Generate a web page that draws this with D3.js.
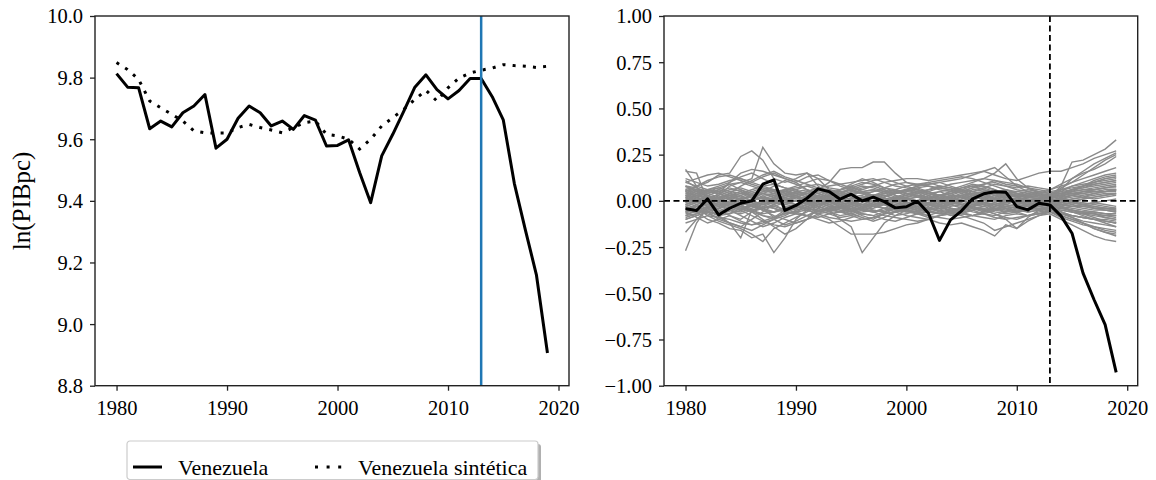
<!DOCTYPE html>
<html>
<head>
<meta charset="utf-8">
<script src="https://cdnjs.cloudflare.com/ajax/libs/d3/7.8.5/d3.min.js"></script>
<style>
    body { margin: 0; background: #fff; }
    svg text { font-family: "Liberation Serif", "Times New Roman", serif; fill: #000; }
</style>
</head>
<body>
<div id="chart"></div>
<script>

// years 1980-2019
let years = d3.range(1980, 2020);
let treatYear = 2013;

// ln(GDP per capita)
let venezuela = [9.813, 9.769, 9.767, 9.634, 9.659, 9.640, 9.686, 9.708, 9.745, 9.571,
    9.600, 9.668, 9.708, 9.686, 9.643, 9.659, 9.632, 9.677, 9.662, 9.578,
    9.580, 9.598, 9.492, 9.394, 9.546, 9.616, 9.691, 9.769, 9.809, 9.761,
    9.731, 9.758, 9.797, 9.797, 9.738, 9.663, 9.457, 9.306, 9.160, 8.906];

let venezuelaSint = [9.849, 9.826, 9.794, 9.724, 9.702, 9.681, 9.659, 9.627, 9.621, 9.620,
    9.620, 9.638, 9.648, 9.638, 9.630, 9.621, 9.638, 9.654, 9.659, 9.616,
    9.611, 9.600, 9.568, 9.600, 9.643, 9.670, 9.697, 9.729, 9.759, 9.724,
    9.767, 9.799, 9.815, 9.824, 9.831, 9.842, 9.839, 9.837, 9.833, 9.837];

// gap Venezuela - synthetic
let venezuelaGap = [-.043, -.052, .011, -.076, -.040, -.013, .000, .090, .114, -.052,
    -.025, .014, .065, .050, .009, .036, .000, .020, -.004, -.038,
    -.032, -.002, -.067, -.214, -.103, -.054, .011, .038, .049, .047,
    -.031, -.049, -.013, -.022, -.081, -.175, -.391, -.535, -.670, -.928];

// placebo gaps (donor countries)
let placeboGaps = [
    [-.27,-.12,-.03,-.05,-.08,-.10,-.06,-.04,-.09,-.05, -.03,.00,.02,-.01,-.03,-.05,-.04,-.02,.00,.01, .02,.03,.01,-.02,-.04,-.05,-.03,-.01,.01,.02, .00,-.02,-.03,-.02,.02,.05,.08,.10,.12,.13],
    [.17,.08,-.04,-.08,-.12,-.14,-.10,-.06,-.02,.03, .05,.04,.01,-.02,-.04,-.03,-.01,.02,.03,.01, -.01,-.03,-.05,-.04,-.02,.01,.03,.05,.04,.02, .00,-.03,-.05,-.06,-.08,-.10,-.12,-.15,-.17,-.19],
    [.16,.15,.00,.04,.10,.15,.17,.16,.14,.12, .10,.06,.02,.00,-.02,-.01,.01,.03,.05,.06, .04,.02,.00,.01,.03,.05,.07,.08,.06,.03, .02,.04,.03,.01,.06,.12,.16,.20,.23,.26],
    [-.17,-.10,-.05,-.03,.00,-.02,-.06,-.10,-.14,-.18, -.15,-.10,-.04,.02,.06,.08,.05,.02,-.01,-.03, -.05,-.06,-.04,-.02,.00,-.01,-.03,-.05,-.07,-.10, -.15,-.09,-.05,-.03,-.06,-.09,-.12,-.15,-.17,-.18],
    [.05,.08,.10,.14,.15,.24,.27,.22,.12,.10, .12,.15,.12,.06,.02,-.01,-.03,-.01,.02,.04, .06,.08,.10,.11,.12,.13,.12,.10,.08,.06, .04,.02,.01,.02,.07,.10,.14,.18,.22,.25],
    [.02,.00,-.02,.03,.08,.10,.12,.29,.20,.15, .14,.15,.08,.03,-.02,-.05,-.08,-.10,-.07,-.04, -.02,.00,.03,.05,.06,.08,.10,.12,.15,.20, .12,.07,.04,.02,.08,.21,.22,.25,.28,.33],
    [-.08,-.05,-.06,-.10,-.12,-.20,-.05,-.08,-.10,-.06, -.04,-.02,.00,.01,.03,.05,.04,.02,.00,-.01, -.03,-.04,-.02,.00,.02,.03,.01,-.01,-.02,-.04, -.06,-.08,-.07,-.05,-.04,-.03,-.02,-.01,.00,.01],
    [-.04,-.06,-.10,-.12,-.15,-.16,-.20,-.18,-.28,-.20, -.10,-.05,-.02,.00,-.03,-.06,-.04,-.02,-.01,.01, .03,.05,.04,.02,.00,-.02,-.04,-.06,-.05,-.03, -.02,.00,.01,.00,-.03,-.06,-.08,-.10,-.12,-.14],
    [-.02,-.04,-.08,-.11,-.13,-.15,-.18,-.22,-.15,-.12, -.09,-.06,-.03,-.05,-.10,-.14,-.28,-.20,-.12,-.08, -.05,-.03,-.01,.01,.03,.02,.00,-.02,-.04,-.06, -.05,-.04,-.02,-.01,.01,.03,.05,.06,.07,.08],
    [.06,.04,.05,.07,.09,.10,.08,.06,.04,.03, .02,.04,.06,.10,.17,.18,.18,.21,.21,.15, .10,.08,.09,.10,.11,.12,.14,.16,.18,.13, .08,.05,.04,.03,.05,.08,.10,.12,.14,.15],
    [.08,.05,.02,-.01,-.03,-.05,-.08,-.11,-.13,-.14, -.12,-.10,-.08,-.10,-.14,-.18,-.18,-.18,-.17,-.15, -.13,-.12,-.10,-.08,-.07,-.08,-.10,-.12,-.16,-.14, -.12,-.10,-.08,-.07,-.10,-.13,-.16,-.19,-.21,-.22],
    [.03,.02,.00,-.02,-.01,.01,.03,.04,.02,.00, -.02,-.04,-.06,-.05,-.03,-.02,-.04,-.06,-.08,-.09, -.10,-.11,-.10,-.12,-.13,-.12,-.14,-.16,-.19,-.13, -.15,-.11,-.08,-.06,-.09,-.11,-.13,-.14,-.15,-.16],
    [.10,.12,.14,.15,.13,.11,.09,.07,.05,.06, .08,.10,.12,.11,.09,.07,.06,.08,.10,.11, .12,.12,.11,.12,.13,.14,.15,.16,.14,.12, .11,.13,.15,.16,.16,.18,.20,.23,.25,.27],
    [.12,.10,.08,.09,.11,.12,.10,.08,.06,.05, .04,.05,.07,.08,.09,.10,.11,.12,.10,.08, .07,.06,.05,.07,.09,.10,.11,.12,.11,.09, .08,.07,.06,.05,.06,.07,.08,.09,.10,.11],
    [-.12,-.10,-.08,-.09,-.10,-.12,-.13,-.11,-.09,-.07, -.06,-.05,-.07,-.09,-.10,-.11,-.10,-.09,-.07,-.06, -.05,-.06,-.08,-.09,-.10,-.09,-.08,-.07,-.09,-.10, -.09,-.08,-.07,-.06,-.07,-.08,-.09,-.10,-.11,-.12],
    [.05,.08,.11,.13,.14,.12,.10,.13,.15,.12, .10,.13,.14,.11,.08,.06,.04,.05,.07,.09, .10,.09,.08,.07,.06,.05,.07,.09,.11,.10, .09,.07,.05,.04,.02,.00,-.02,-.03,-.04,-.05],
    [-.06,-.09,-.12,-.10,-.08,-.11,-.13,-.12,-.10,-.13, -.11,-.08,-.05,-.07,-.09,-.08,-.06,-.05,-.06,-.08, -.07,-.05,-.04,-.06,-.08,-.07,-.05,-.04,-.06,-.07, -.06,-.05,-.04,-.05,-.03,-.01,.01,.02,.03,.04],
    [.00,.03,.06,.08,.10,.13,.15,.12,.09,.07, .05,.03,.01,.03,.06,.09,.12,.10,.07,.05, .03,.04,.06,.08,.07,.05,.03,.02,.04,.06, .05,.04,.03,.02,.04,.06,.08,.10,.12,.13],
    [-.09,-.07,-.04,-.02,-.05,-.08,-.11,-.14,-.12,-.09, -.07,-.08,-.10,-.12,-.11,-.09,-.07,-.08,-.10,-.11, -.09,-.07,-.06,-.05,-.06,-.07,-.08,-.06,-.04,-.05, -.06,-.04,-.03,-.04,-.06,-.08,-.09,-.10,-.10,-.11],
    [.08,.06,.03,.00,.04,.08,.11,.14,.16,.13, .11,.09,.07,.05,.04,.06,.08,.07,.05,.04, .06,.08,.09,.10,.08,.06,.05,.07,.09,.08, .06,.05,.04,.06,.09,.12,.15,.17,.20,.24],
    [-.03,-.05,-.07,-.09,-.12,-.14,-.16,-.13,-.10,-.08, -.05,-.03,-.04,-.06,-.08,-.07,-.05,-.04,-.02,-.03, -.05,-.07,-.09,-.08,-.06,-.04,-.05,-.07,-.08,-.06, -.04,-.06,-.05,-.04,-.05,-.06,-.07,-.07,-.08,-.08],
    [.11,.07,.04,.06,.09,.06,.03,.05,.08,.11, .09,.06,.04,.02,.04,.07,.09,.11,.12,.10, .08,.06,.04,.03,.05,.07,.09,.08,.06,.04, .03,.05,.04,.03,.04,.05,.06,.07,.08,.09],
    [-.10,-.08,-.06,-.08,-.07,-.04,-.02,-.05,-.08,-.10, -.12,-.10,-.07,-.04,-.05,-.07,-.09,-.11,-.09,-.06, -.04,-.03,-.05,-.07,-.06,-.04,-.03,-.05,-.07,-.09, -.10,-.08,-.06,-.05,-.07,-.09,-.11,-.12,-.13,-.14],
    [.04,.03,.02,.03,.05,.06,.04,.02,.01,.02, .03,.04,.05,.04,.02,.01,.02,.03,.04,.05, .04,.03,.02,.01,.02,.03,.04,.05,.04,.03, .02,.03,.04,.03,.04,.05,.06,.06,.07,.07],
    [-.04,-.03,-.02,-.03,-.05,-.06,-.04,-.02,-.01,-.02, -.03,-.04,-.05,-.04,-.02,-.01,-.02,-.03,-.04,-.05, -.04,-.03,-.02,-.01,-.02,-.03,-.04,-.05,-.04,-.03, -.02,-.03,-.04,-.03,-.04,-.05,-.06,-.06,-.07,-.07],
    [.01,.03,.05,.04,.02,.00,-.02,-.01,.01,.03, .05,.06,.04,.02,.00,-.01,.00,.02,.04,.05, .06,.05,.03,.01,.00,.01,.03,.04,.05,.04, .02,.01,.00,.01,.03,.04,.05,.05,.06,.06],
    [-.02,.00,.02,.01,-.01,-.03,-.05,-.04,-.02,.00, .02,.01,-.01,-.03,-.04,-.05,-.03,-.01,.01,.02, .01,-.01,-.02,-.04,-.05,-.04,-.02,.00,.01,.00, -.01,-.02,-.03,-.02,-.04,-.05,-.06,-.07,-.08,-.09],
    [.06,.05,.03,.01,-.01,.01,.03,.05,.06,.04, .02,.00,-.02,-.01,.01,.03,.05,.06,.05,.03, .01,.00,.01,.03,.04,.06,.05,.03,.02,.00, -.01,.00,.01,.02,.03,.04,.05,.06,.07,.08],
    [-.06,-.05,-.03,-.01,.01,-.01,-.03,-.05,-.06,-.04, -.02,.00,.02,.01,-.01,-.03,-.05,-.06,-.05,-.03, -.01,.00,-.01,-.03,-.04,-.06,-.05,-.03,-.02,.00, .01,.00,-.01,-.02,-.03,-.04,-.05,-.06,-.07,-.08],
    [.02,.04,.06,.05,.03,.02,.04,.06,.05,.03, .01,.02,.04,.06,.05,.03,.01,.00,.02,.04, .05,.06,.04,.02,.01,.03,.05,.06,.04,.02, .01,.02,.03,.02,.03,.04,.04,.05,.05,.06],
    [-.01,-.03,-.05,-.04,-.02,-.01,-.03,-.05,-.06,-.04, -.02,-.01,-.03,-.05,-.06,-.04,-.02,.00,-.01,-.03, -.05,-.06,-.04,-.02,-.01,-.02,-.04,-.05,-.03,-.01, .00,-.01,-.02,-.01,-.02,-.03,-.03,-.04,-.04,-.05],
    [.03,.01,-.01,.00,.02,.04,.03,.01,-.01,-.02, .00,.02,.03,.01,-.01,.00,.02,.03,.01,-.01, -.02,.00,.02,.03,.02,.00,-.01,.01,.03,.02, .00,-.01,.00,.01,.00,.01,.02,.01,.02,.03],
    [-.03,-.01,.01,.00,-.02,-.04,-.03,-.01,.01,.02, .00,-.02,-.03,-.01,.01,.00,-.02,-.03,-.01,.01, .02,.00,-.02,-.03,-.02,.00,.01,-.01,-.03,-.02, .00,.01,.00,-.01,.00,-.01,-.02,-.01,-.02,-.03],
    [.05,.02,.00,.02,.04,.03,.00,-.02,.00,.03, .05,.04,.02,.00,.02,.04,.05,.03,.01,.00, .02,.04,.05,.03,.01,.02,.04,.03,.01,.02, .03,.02,.01,.02,.04,.06,.07,.09,.10,.11],
    [-.05,-.02,.00,-.02,-.04,-.03,.00,.02,.00,-.03, -.05,-.04,-.02,.00,-.02,-.04,-.05,-.03,-.01,.00, -.02,-.04,-.05,-.03,-.01,-.02,-.04,-.03,-.01,-.02, -.03,-.02,-.01,-.02,-.04,-.05,-.06,-.07,-.09,-.10],
    [.00,.02,.04,.06,.04,.02,.00,.02,.04,.06, .04,.02,.00,.02,.04,.06,.04,.02,.00,.02, .04,.05,.03,.01,.00,.02,.04,.05,.03,.01, .00,.02,.01,.00,.01,.02,.03,.04,.05,.05],
    [.00,-.02,-.04,-.06,-.04,-.02,.00,-.02,-.04,-.06, -.04,-.02,.00,-.02,-.04,-.06,-.04,-.02,.00,-.02, -.04,-.05,-.03,-.01,.00,-.02,-.04,-.05,-.03,-.01, .00,-.02,-.01,.00,-.01,-.02,-.03,-.04,-.05,-.05],
    [.07,.06,.04,.02,.01,.03,.05,.07,.06,.04, .03,.05,.07,.06,.04,.03,.05,.06,.04,.02, .03,.05,.06,.07,.06,.04,.02,.03,.05,.06, .04,.03,.02,.03,.01,.00,-.01,-.02,-.03,-.04],
    [-.07,-.06,-.04,-.02,-.01,-.03,-.05,-.07,-.06,-.04, -.03,-.05,-.07,-.06,-.04,-.03,-.05,-.06,-.04,-.02, -.03,-.05,-.06,-.07,-.06,-.04,-.02,-.03,-.05,-.06, -.04,-.03,-.02,-.03,-.01,.00,.01,.02,.03,.04],
    [.03,.05,.06,.04,.01,-.01,.01,.04,.06,.05, .03,.01,.02,.04,.06,.07,.05,.03,.02,.04, .06,.07,.05,.03,.02,.04,.06,.07,.05,.03, .02,.03,.05,.04,.06,.08,.09,.10,.11,.12],
    [-.03,-.05,-.06,-.04,-.01,.01,-.01,-.04,-.06,-.05, -.03,-.01,-.02,-.04,-.06,-.07,-.05,-.03,-.02,-.04, -.06,-.07,-.05,-.03,-.02,-.04,-.06,-.07,-.05,-.03, -.02,-.03,-.05,-.04,-.06,-.08,-.09,-.10,-.11,-.12],
    [.08,.07,.05,.04,.06,.07,.05,.03,.04,.06, .07,.08,.06,.04,.03,.05,.07,.08,.06,.04, .05,.07,.08,.06,.05,.07,.08,.06,.05,.04, .05,.06,.05,.04,.05,.06,.07,.08,.09,.10],
    [-.08,-.07,-.05,-.04,-.06,-.07,-.05,-.03,-.04,-.06, -.07,-.08,-.06,-.04,-.03,-.05,-.07,-.08,-.06,-.04, -.05,-.07,-.08,-.06,-.05,-.07,-.08,-.06,-.05,-.04, -.05,-.06,-.05,-.04,-.05,-.06,-.07,-.08,-.09,-.10],
    [.01,-.01,-.02,.00,.02,.01,-.01,-.02,.00,.01, .02,.01,.00,-.02,-.01,.01,.02,.00,-.01,.00, .01,.02,.01,.00,-.01,.00,.02,.01,.00,.01, .00,.00,.01,.00,.02,.03,.04,.05,.05,.06],
    [-.01,.01,.02,.00,-.02,-.01,.01,.02,.00,-.01, -.02,-.01,.00,.02,.01,-.01,-.02,.00,.01,.00, -.01,-.02,-.01,.00,.01,.00,-.02,-.01,.00,-.01, .00,.00,-.01,.00,-.02,-.03,-.04,-.05,-.05,-.06],
    [.04,.06,.03,.01,.03,.05,.02,.00,.02,.05, .06,.03,.01,.03,.05,.06,.04,.01,.02,.05, .06,.04,.02,.03,.05,.06,.03,.01,.02,.04, .03,.02,.03,.02,.01,-.01,-.02,-.04,-.05,-.06],
    [-.04,-.06,-.03,-.01,-.03,-.05,-.02,.00,-.02,-.05, -.06,-.03,-.01,-.03,-.05,-.06,-.04,-.01,-.02,-.05, -.06,-.04,-.02,-.03,-.05,-.06,-.03,-.01,-.02,-.04, -.03,-.02,-.03,-.02,-.01,.01,.02,.04,.05,.06],
    [.02,.00,.03,.05,.07,.05,.03,.01,.03,.05, .04,.02,.01,.03,.04,.02,.00,.02,.04,.06, .04,.02,.01,.02,.04,.05,.03,.02,.01,.03, .04,.03,.02,.01,.03,.06,.08,.11,.13,.14],
    [-.02,.00,-.03,-.05,-.07,-.05,-.03,-.01,-.03,-.05, -.04,-.02,-.01,-.03,-.04,-.02,.00,-.02,-.04,-.06, -.04,-.02,-.01,-.02,-.04,-.05,-.03,-.02,-.01,-.03, -.04,-.03,-.02,-.01,-.03,-.05,-.07,-.09,-.11,-.12],
    [.06,.03,.01,.02,.03,.01,.02,.04,.03,.01, .00,.01,.03,.05,.03,.02,.03,.05,.06,.03, .01,.02,.04,.05,.03,.02,.01,.02,.04,.05, .03,.02,.02,.03,.02,.03,.02,.03,.04,.04],
    [-.06,-.03,-.01,-.02,-.03,-.01,-.02,-.04,-.03,-.01, .00,-.01,-.03,-.05,-.03,-.02,-.03,-.05,-.06,-.03, -.01,-.02,-.04,-.05,-.03,-.02,-.01,-.02,-.04,-.05, -.03,-.02,-.02,-.03,-.02,-.03,-.02,-.03,-.04,-.04],
    [.10,.08,.06,.07,.05,.04,.06,.08,.09,.07, .06,.08,.09,.07,.06,.08,.10,.09,.07,.06, .08,.09,.10,.08,.07,.06,.08,.09,.10,.08, .07,.08,.07,.06,.08,.10,.12,.14,.16,.18],
    [-.10,-.08,-.06,-.07,-.05,-.04,-.06,-.08,-.09,-.07, -.06,-.08,-.09,-.07,-.06,-.08,-.10,-.09,-.07,-.06, -.08,-.09,-.10,-.08,-.07,-.06,-.08,-.09,-.10,-.08, -.07,-.08,-.07,-.06,-.08,-.10,-.12,-.14,-.16,-.17]
];

// axis ticks
let xTicks = [1980, 1990, 2000, 2010, 2020];
let leftYTicks = [8.8, 9.0, 9.2, 9.4, 9.6, 9.8, 10.0];
let rightYTicks = [-1.00, -0.75, -0.50, -0.25, 0.00, 0.25, 0.50, 0.75, 1.00];
let legendLabels = ["Venezuela", "Venezuela sintética"];


let width = 1156, height = 480;
let plotTop = 16, plotBottom = 385.7;
let serif = "Liberation Serif, Times New Roman, serif";

let svg = d3.select("#chart").append("svg")
    .attr("width", width)
    .attr("height", height);

function fmtMinus(f) {
    return d => f(d).replace("-", "\u2212");
}

// draws ticks and labels for one panel, returns the scales
function makePanel(left, right, yDomain, yTicks, yFormat) {
    let x = d3.scaleLinear().domain([1978.05, 2020.95]).range([left, right]);
    let y = d3.scaleLinear().domain(yDomain).range([plotBottom, plotTop]);

    let g = svg.append("g");

    let xAxis = g.append("g")
        .attr("transform", `translate(0,${plotBottom})`)
        .call(d3.axisBottom(x).tickValues(xTicks).tickFormat(d3.format("d")).tickSize(5).tickPadding(10));
    let yAxis = g.append("g")
        .attr("transform", `translate(${left},0)`)
        .call(d3.axisLeft(y).tickValues(yTicks).tickFormat(yFormat).tickSize(5).tickPadding(7));

    [xAxis, yAxis].forEach(a => {
        a.attr("font-family", serif).attr("font-size", 20.5);
        a.select(".domain").remove();
        a.selectAll(".tick line").attr("stroke", "#222").attr("stroke-width", 1.3);
        a.selectAll(".tick text").attr("fill", "#000");
    });
    yAxis.selectAll(".tick text").attr("dy", "0.34em");

    return {x: x, y: y, g: g, left: left, right: right};
}

function frame(p) {
    p.g.append("rect")
        .attr("x", p.left)
        .attr("y", plotTop)
        .attr("width", p.right - p.left)
        .attr("height", plotBottom - plotTop)
        .attr("fill", "none")
        .attr("stroke", "#222")
        .attr("stroke-width", 1.4);
}

// ---------- left panel ----------
let pL = makePanel(95, 569, [8.8, 10.0], leftYTicks, d3.format(".1f"));

let lineL = d3.line()
    .x((d, i) => pL.x(years[i]))
    .y(d => pL.y(d));

pL.g.append("path")
    .datum(venezuelaSint)
    .attr("d", lineL)
    .attr("fill", "none")
    .attr("stroke", "#000")
    .attr("stroke-width", 3)
    .attr("stroke-dasharray", "3,7.2");

pL.g.append("path")
    .datum(venezuela)
    .attr("d", lineL)
    .attr("fill", "none")
    .attr("stroke", "#000")
    .attr("stroke-width", 3)
    .attr("stroke-linejoin", "round");

pL.g.append("line")
    .attr("x1", pL.x(treatYear)).attr("x2", pL.x(treatYear))
    .attr("y1", plotTop).attr("y2", plotBottom)
    .attr("stroke", "#1f77b4")
    .attr("stroke-width", 2.5);

frame(pL);

// y label
svg.append("text")
    .attr("transform", `translate(30,${(plotTop + plotBottom) / 2}) rotate(-90)`)
    .attr("text-anchor", "middle")
    .attr("font-family", serif)
    .attr("font-size", 25)
    .text("ln(PIBpc)");

// ---------- right panel ----------
let pR = makePanel(664, 1137.7, [-1, 1], rightYTicks, fmtMinus(d3.format(".2f")));

let lineR = d3.line()
    .x((d, i) => pR.x(years[i]))
    .y(d => pR.y(d));

pR.g.append("g")
    .selectAll("path")
    .data(placeboGaps)
    .enter()
    .append("path")
    .attr("d", lineR)
    .attr("fill", "none")
    .attr("stroke", "#8a8a8a")
    .attr("stroke-width", 1.4);

pR.g.append("line")
    .attr("x1", pR.left).attr("x2", pR.right)
    .attr("y1", pR.y(0)).attr("y2", pR.y(0))
    .attr("stroke", "#000")
    .attr("stroke-width", 1.8)
    .attr("stroke-dasharray", "6,3.5");

pR.g.append("line")
    .attr("x1", pR.x(treatYear)).attr("x2", pR.x(treatYear))
    .attr("y1", plotTop).attr("y2", plotBottom)
    .attr("stroke", "#000")
    .attr("stroke-width", 1.8)
    .attr("stroke-dasharray", "6,3.5");

pR.g.append("path")
    .datum(venezuelaGap)
    .attr("d", lineR)
    .attr("fill", "none")
    .attr("stroke", "#000")
    .attr("stroke-width", 3)
    .attr("stroke-linejoin", "round");

frame(pR);

// ---------- legend ----------
let lg = svg.append("g").attr("transform", "translate(127,441)");
let lgW = 411, lgH = 38.5;

lg.append("rect")
    .attr("x", 3).attr("y", 3)
    .attr("width", lgW).attr("height", lgH)
    .attr("rx", 3)
    .attr("fill", "#b0b0b0");
lg.append("rect")
    .attr("width", lgW).attr("height", lgH)
    .attr("rx", 3)
    .attr("fill", "#fff")
    .attr("stroke", "#cccccc")
    .attr("stroke-width", 1.2);

let handles = [
    {x: 6, text: 51, dash: null},
    {x: 188, text: 231, dash: "3,8.6"}
];
handles.forEach((h, i) => {
    lg.append("line")
        .attr("x1", h.x).attr("x2", h.x + 29)
        .attr("y1", 26).attr("y2", 26)
        .attr("stroke", "#000")
        .attr("stroke-width", 3)
        .attr("stroke-dasharray", h.dash);
    lg.append("text")
        .attr("x", h.text)
        .attr("y", 34)
        .attr("font-family", serif)
        .attr("font-size", 22)
        .text(legendLabels[i]);
});

</script>
</body>
</html>
